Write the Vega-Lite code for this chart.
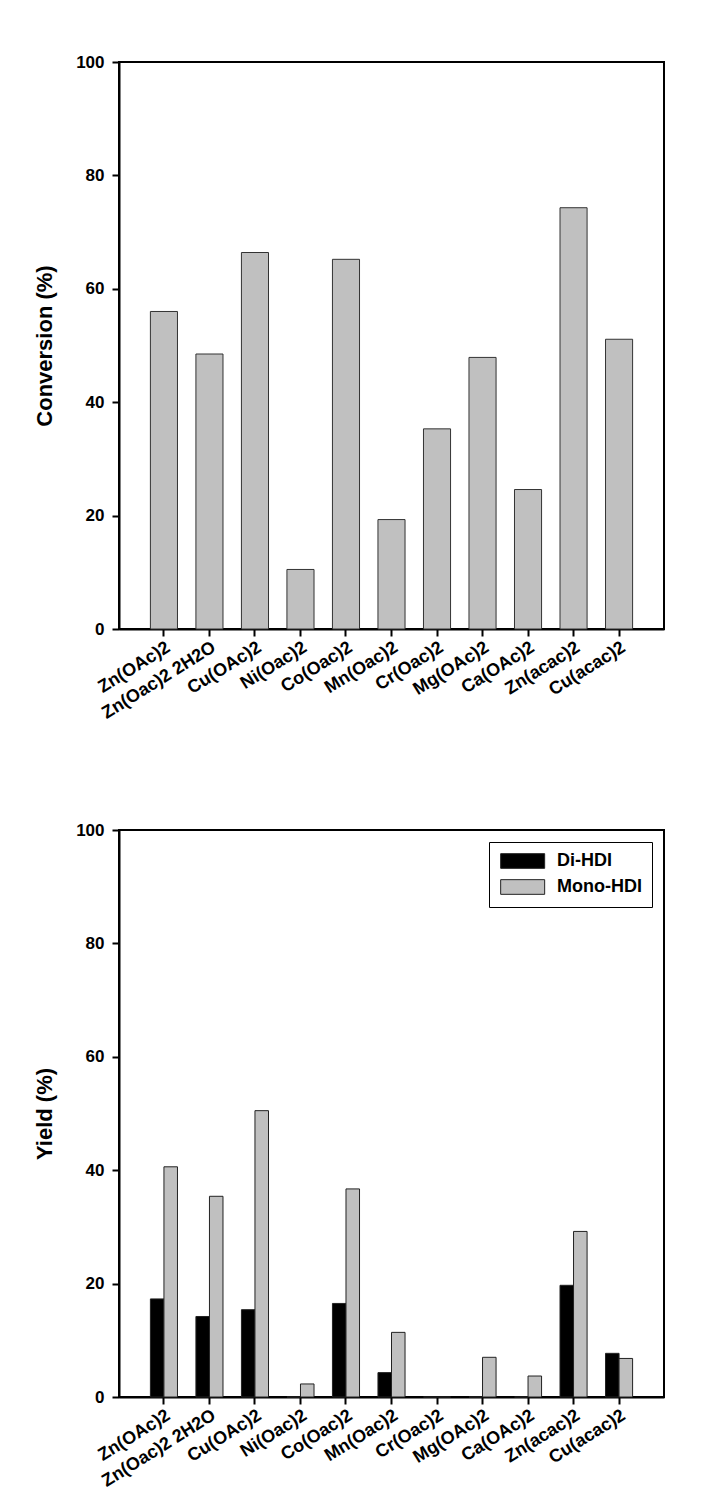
{
  "$schema": "https://vega.github.io/schema/vega-lite/v6.json",
  "background": "white",
  "padding": {"left": 32, "top": 52, "right": 10, "bottom": 10},
  "config": {
    "font": "Liberation Sans",
    "view": {"stroke": "black", "strokeWidth": 2},
    "axis": {
      "labelFont": "Liberation Sans", "labelFontWeight": "bold", "labelFontSize": 17, "labelColor": "black",
      "titleFont": "Liberation Sans", "titleFontWeight": "bold", "titleFontSize": 22, "titleColor": "black",
      "domainColor": "black", "domainWidth": 2, "tickColor": "black", "tickWidth": 2, "tickSize": 7, "grid": false
    },
    "concat": {"spacing": 96}
  },
  "resolve": {"legend": {"color": "independent"}, "scale": {"color": "independent"}},
  "vconcat": [
    {
      "width": 545,
      "height": 567,
      "data": {"values": [
        {"catalyst": "Zn(OAc)2", "conversion": 56.0},
        {"catalyst": "Zn(Oac)2 2H2O", "conversion": 48.5},
        {"catalyst": "Cu(OAc)2", "conversion": 66.4},
        {"catalyst": "Ni(Oac)2", "conversion": 10.5},
        {"catalyst": "Co(Oac)2", "conversion": 65.2},
        {"catalyst": "Mn(Oac)2", "conversion": 19.3},
        {"catalyst": "Cr(Oac)2", "conversion": 35.3},
        {"catalyst": "Mg(OAc)2", "conversion": 47.9},
        {"catalyst": "Ca(OAc)2", "conversion": 24.6},
        {"catalyst": "Zn(acac)2", "conversion": 74.3},
        {"catalyst": "Cu(acac)2", "conversion": 51.1}
      ]},
      "mark": {"type": "bar", "fill": "#c0c0c0", "stroke": "#333333", "strokeWidth": 1},
      "encoding": {
        "x": {"field": "catalyst", "type": "nominal", "sort": null,
          "scale": {"paddingInner": 0.405, "paddingOuter": 0.69},
          "axis": {"title": null, "labelAngle": -32, "labelFontSize": 18, "labelAlign": "right", "labelBaseline": "top", "labelPadding": 2}},
        "y": {"field": "conversion", "type": "quantitative",
          "scale": {"domain": [0, 100], "nice": false},
          "axis": {"title": "Conversion (%)", "values": [0, 20, 40, 60, 80, 100], "labelPadding": 8, "titlePadding": 19}}
      }
    },
    {
      "width": 545,
      "height": 567,
      "data": {"values": [
        {"catalyst": "Zn(OAc)2", "product": "Di-HDI", "yield": 17.3},
        {"catalyst": "Zn(OAc)2", "product": "Mono-HDI", "yield": 40.6},
        {"catalyst": "Zn(Oac)2 2H2O", "product": "Di-HDI", "yield": 14.2},
        {"catalyst": "Zn(Oac)2 2H2O", "product": "Mono-HDI", "yield": 35.4},
        {"catalyst": "Cu(OAc)2", "product": "Di-HDI", "yield": 15.4},
        {"catalyst": "Cu(OAc)2", "product": "Mono-HDI", "yield": 50.5},
        {"catalyst": "Ni(Oac)2", "product": "Di-HDI", "yield": 0},
        {"catalyst": "Ni(Oac)2", "product": "Mono-HDI", "yield": 2.3},
        {"catalyst": "Co(Oac)2", "product": "Di-HDI", "yield": 16.5},
        {"catalyst": "Co(Oac)2", "product": "Mono-HDI", "yield": 36.7},
        {"catalyst": "Mn(Oac)2", "product": "Di-HDI", "yield": 4.3},
        {"catalyst": "Mn(Oac)2", "product": "Mono-HDI", "yield": 11.4},
        {"catalyst": "Cr(Oac)2", "product": "Di-HDI", "yield": 0},
        {"catalyst": "Cr(Oac)2", "product": "Mono-HDI", "yield": 0},
        {"catalyst": "Mg(OAc)2", "product": "Di-HDI", "yield": 0},
        {"catalyst": "Mg(OAc)2", "product": "Mono-HDI", "yield": 7.0},
        {"catalyst": "Ca(OAc)2", "product": "Di-HDI", "yield": 0},
        {"catalyst": "Ca(OAc)2", "product": "Mono-HDI", "yield": 3.7},
        {"catalyst": "Zn(acac)2", "product": "Di-HDI", "yield": 19.7},
        {"catalyst": "Zn(acac)2", "product": "Mono-HDI", "yield": 29.2},
        {"catalyst": "Cu(acac)2", "product": "Di-HDI", "yield": 7.7},
        {"catalyst": "Cu(acac)2", "product": "Mono-HDI", "yield": 6.8}
      ]},
      "mark": {"type": "bar", "stroke": "#222222", "strokeWidth": 1},
      "encoding": {
        "x": {"field": "catalyst", "type": "nominal", "sort": null,
          "scale": {"paddingInner": 0.405, "paddingOuter": 0.69},
          "axis": {"title": null, "labelAngle": -32, "labelFontSize": 18, "labelAlign": "right", "labelBaseline": "top", "labelPadding": 2}},
        "xOffset": {"field": "product", "type": "nominal", "scale": {"paddingInner": 0, "paddingOuter": 0}},
        "y": {"field": "yield", "type": "quantitative",
          "scale": {"domain": [0, 100], "nice": false},
          "axis": {"title": "Yield (%)", "values": [0, 20, 40, 60, 80, 100], "labelPadding": 8, "titlePadding": 19}},
        "color": {"field": "product", "type": "nominal",
          "scale": {"domain": ["Di-HDI", "Mono-HDI"], "range": ["black", "#c0c0c0"]},
          "legend": {"title": null, "orient": "top-right", "offset": 12,
            "fillColor": "white", "strokeColor": "black", "padding": 10,
            "labelFont": "Liberation Sans", "labelFontSize": 18, "labelFontWeight": "bold", "labelColor": "black",
            "symbolType": "M-1,-1H5V1H-1Z", "symbolSize": 215, "symbolStrokeColor": "#222222", "symbolStrokeWidth": 1,
            "symbolOpacity": 1, "labelOffset": 40, "rowPadding": 6}}
      }
    }
  ]
}
